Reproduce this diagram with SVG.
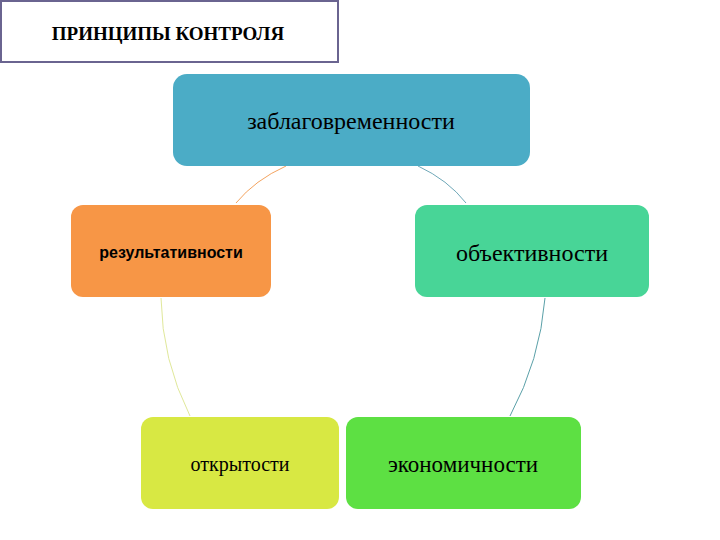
<svg xmlns="http://www.w3.org/2000/svg" width="720" height="540" viewBox="0 0 720 540">
<style>
.serif{font-family:"Liberation Serif","Times New Roman",serif;fill:#000;text-anchor:middle}
.sans{font-family:"Liberation Sans",Arial,sans-serif;fill:#000;text-anchor:middle;font-weight:bold}
.c{fill:none;stroke-width:1}
</style>
<rect width="720" height="540" fill="#fff"/>
<g id="title">
<rect x="1" y="1" width="337" height="61" fill="#fff" stroke="#6a6490" stroke-width="2"/>
<text x="168" y="40" class="serif" font-size="19" font-weight="bold">ПРИНЦИПЫ КОНТРОЛЯ</text>
</g>
<g id="connectors">
<path class="c" stroke="#f4a460" d="M236,203 Q255,180 286,166"/>
<path class="c" stroke="#6fa8b8" d="M418,166 Q448,180 466,203"/>
<path class="c" stroke="#e0e89a" d="M161,298 Q162,360 190,416"/>
<path class="c" stroke="#5aa0a8" d="M545,298 Q540,360 510,416"/>
</g>
<g id="n1"><rect x="173" y="74" width="357" height="92" rx="14" fill="#4BACC6"/>
<text x="351" y="129" class="serif" font-size="24">заблаговременности</text></g>
<g id="n2"><rect x="71" y="205" width="200" height="92" rx="12" fill="#F79646"/>
<text x="171" y="258" class="sans" font-size="16">результативности</text></g>
<g id="n3"><rect x="415" y="205" width="234" height="92" rx="12" fill="#48D597"/>
<text x="532" y="261" class="serif" font-size="24">объективности</text></g>
<g id="n4"><rect x="141" y="417" width="198" height="92" rx="12" fill="#D8E843"/>
<text x="240" y="471" class="serif" font-size="20">открытости</text></g>
<g id="n5"><rect x="346" y="417" width="235" height="92" rx="12" fill="#5DE043"/>
<text x="463" y="472" class="serif" font-size="23">экономичности</text></g>
</svg>
